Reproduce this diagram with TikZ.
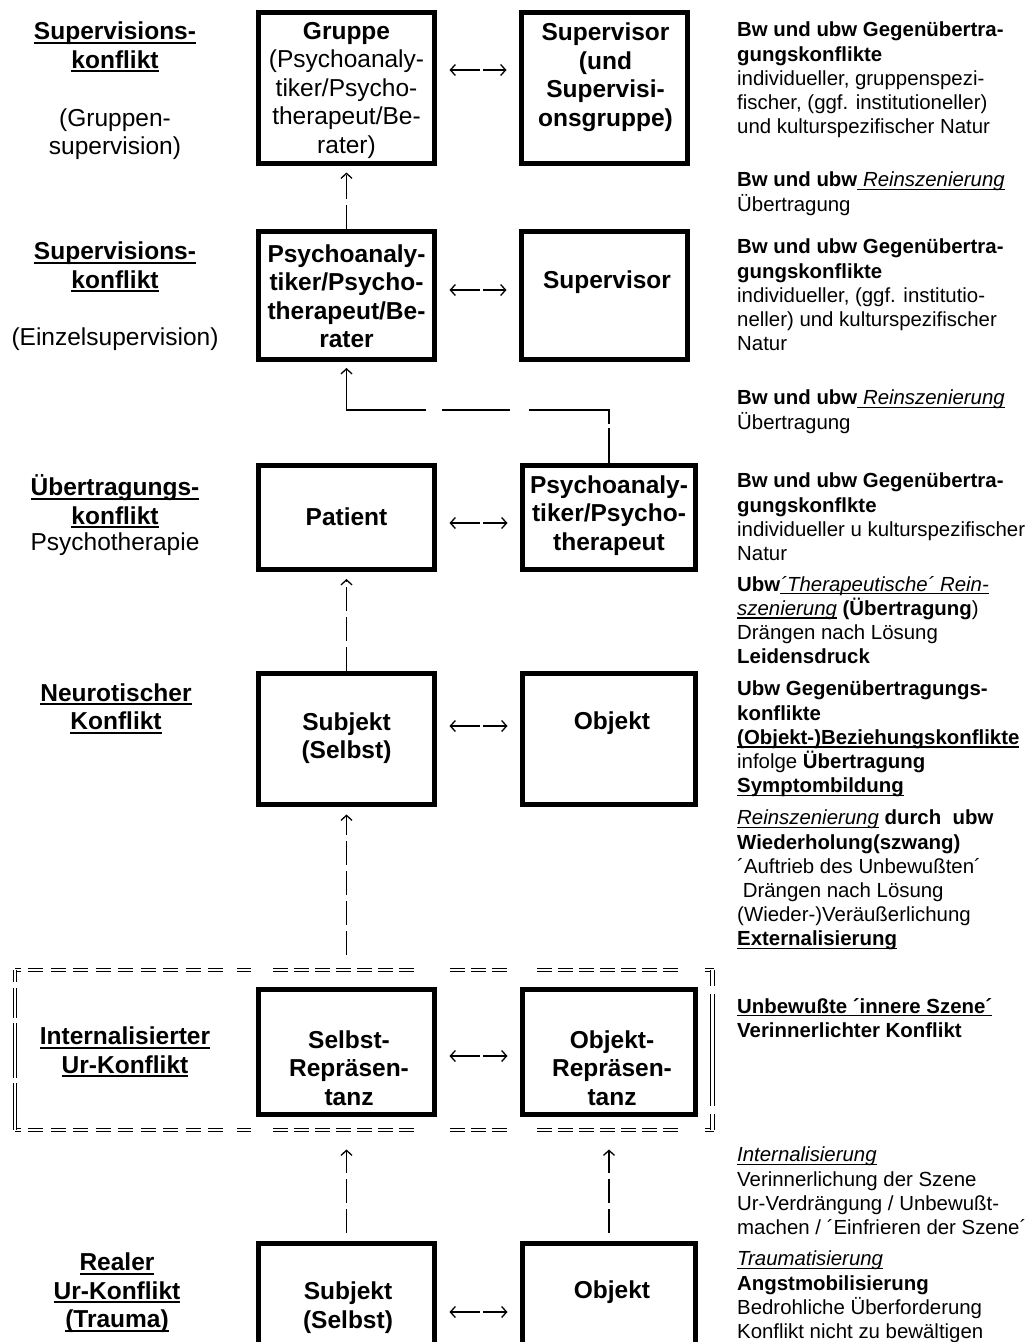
\documentclass[tikz,border=0pt]{standalone}
\usepackage{fontspec}
\setmainfont{Liberation Sans}
\usetikzlibrary{arrows.meta}

% underline at a fixed depth (crosses the descenders)
\newcommand\ulbar[1]{\leavevmode\setbox0=\hbox{#1}\rlap{\rule[-0.16em]{\wd0}{0.075em}}\box0\relax}

\tikzset{
  kasten/.style={draw, line width=5pt, inner sep=0pt},
  ktext/.style={align=center, inner sep=0pt, font=\bfseries\fontsize{24.5}{28.5}\selectfont},
  links/.style={align=center, inner sep=0pt, font=\fontsize{24.5}{28.5}\selectfont},
  linksfett/.style={links, font=\bfseries\fontsize{24.5}{28.5}\selectfont},
  notiz/.style={align=left, anchor=north west, inner sep=0pt, font=\fontsize{20.4}{24.2}\selectfont},
  pfeil/.style={-{Straight Barb[length=5pt,width=11pt]}, line width=1.3pt, dash pattern=on 24pt off 6pt},
  doppel/.style={{Straight Barb[length=5pt,width=11pt]}-{Straight Barb[length=5pt,width=11pt]}, line width=1.3pt, dash pattern=on 29pt off 3pt},
  rahmen/.style={double, double distance=2.5pt, line width=1pt},
  rahmenquer/.style={rahmen, dash pattern=on 6pt off 7pt on 15pt off 7.5pt on 15pt off 7.5pt on 15pt off 7.5pt on 15pt off 7.5pt on 15pt off 7.5pt on 15pt off 7.5pt on 15pt off 7.5pt on 15pt off 7.5pt on 15pt off 14pt on 14pt off 22pt on 15pt off 6pt on 15pt off 6pt on 15pt off 6pt on 15pt off 6pt on 15pt off 6pt on 15pt off 6pt on 15pt off 36pt on 15pt off 6pt on 15pt off 6pt on 15pt off 30pt on 15pt off 6pt on 15pt off 6pt on 15pt off 6pt on 15pt off 6pt on 15pt off 6pt on 15pt off 6pt on 15pt off 27pt on 20pt off 50pt},
}

\begin{document}
\begin{tikzpicture}[x=1pt, y=-1pt]
    \useasboundingbox (0,0) rectangle (1032,1342);
    \fill[white] (0,0) rectangle (1032,1342);
    \clip (0,0) rectangle (1032,1342);

    % Boxes
    \node[kasten, minimum width=176pt, minimum height=151pt] (gruppe) at (346.5,88) {};
    \node[kasten, minimum width=166pt, minimum height=151pt] (supgr) at (604.5,88) {};
    \node[kasten, minimum width=176pt, minimum height=128pt] (berater) at (346.5,295) {};
    \node[kasten, minimum width=166pt, minimum height=128pt] (sup) at (604.5,295) {};
    \node[kasten, minimum width=176pt, minimum height=104pt] (patient) at (346.5,517.5) {};
    \node[kasten, minimum width=173pt, minimum height=104pt] (therap) at (609,517.5) {};
    \node[kasten, minimum width=176pt, minimum height=131pt] (subj) at (346.5,739) {};
    \node[kasten, minimum width=173pt, minimum height=131pt] (obj) at (609,739) {};
    \node[kasten, minimum width=176pt, minimum height=125pt] (selbstrep) at (346.5,1052) {};
    \node[kasten, minimum width=173pt, minimum height=125pt] (objrep) at (609,1052) {};
    \node[kasten, minimum width=176pt, minimum height=130pt] (realsubj) at (346.5,1308.5) {};
    \node[kasten, minimum width=173pt, minimum height=130pt] (realobj) at (609,1308.5) {};

    % Box texts
    \node[ktext] (gruppe-t) at (346.5,90) {Gruppe\\{\mdseries(Psychoanaly-}\\{\mdseries tiker/Psycho-}\\{\mdseries therapeut/Be-}\\{\mdseries rater)}};
    \node[ktext] (supgr-t) at (605.5,77) {Supervisor\\(und\\Supervisi-\\onsgruppe)};
    \node[ktext] (berater-t) at (346.5,296) {Psychoanaly-\\tiker/Psycho-\\therapeut/Be-\\rater};
    \node[ktext] (sup-t) at (607,282) {Supervisor};
    \node[ktext] (patient-t) at (346.5,517) {Patient};
    \node[ktext] (therap-t) at (609,515.5) {Psychoanaly-\\tiker/Psycho-\\therapeut};
    \node[ktext] (subj-t) at (346.5,738) {Subjekt\\(Selbst)};
    \node[ktext] (obj-t) at (612,723) {Objekt};
    \node[ktext] (selbstrep-t) at (349,1068) {Selbst-\\Repräsen-\\tanz};
    \node[ktext] (objrep-t) at (612,1068) {Objekt-\\Repräsen-\\tanz};
    \node[ktext] (realsubj-t) at (348,1307.5) {Subjekt\\(Selbst)};
    \node[ktext] (realobj-t) at (612,1292) {Objekt};

    % Left column
    \node[linksfett] (l-sup1) at (115,47) {\ulbar{Supervisions-}\\\ulbar{konflikt}};
    \node[links] (l-grp) at (115,134) {(Gruppen-\\supervision)};
    \node[linksfett] (l-sup2) at (115,267) {\ulbar{Supervisions-}\\\ulbar{konflikt}};
    \node[links] (l-einz) at (115,339) {(Einzelsupervision)};
    \node[linksfett] (l-uebertr) at (115,501.5) {\ulbar{Übertragungs-}\\\ulbar{konflikt}};
    \node[links] (l-psyth) at (115,544) {Psychotherapie};
    \node[linksfett] (l-neur) at (116,708.5) {\ulbar{Neurotischer}\\\ulbar{Konflikt}};
    \node[linksfett] (l-intern) at (125,1052) {\ulbar{Internalisierter}\\\ulbar{Ur-Konflikt}};
    \node[linksfett] (l-real) at (117,1293) {\ulbar{Realer}\\\ulbar{Ur-Konflikt}\\\ulbar{(Trauma)}};

    % Inner scene frame
    \draw[rahmenquer] (15,970) -- (714,970);
    \draw[rahmenquer] (15,1130) -- (714,1130);
    \draw[rahmen, dash pattern=on 12pt off 6pt on 30pt off 5pt on 55pt off 5pt on 60pt] (15,970) -- (15,1130);
    \draw[rahmen, dash pattern=on 16pt off 8pt on 112pt off 8pt on 30pt] (712.5,970) -- (712.5,1130);

    % Horizontal connectors
    \draw[doppel] ([xshift=12.5pt,yshift=18pt]gruppe.east) -- ([xshift=-12.5pt,yshift=18pt]supgr.west);
    \draw[doppel] ([xshift=12.5pt,yshift=5pt]berater.east) -- ([xshift=-12.5pt,yshift=5pt]sup.west);
    \draw[doppel] ([xshift=12.5pt,yshift=-5.5pt]patient.east) -- ([xshift=-12.5pt,yshift=-5.5pt]therap.west);
    \draw[doppel] ([xshift=12.5pt,yshift=13pt]subj.east) -- ([xshift=-12.5pt,yshift=13pt]obj.west);
    \draw[doppel] ([xshift=12.5pt,yshift=-4pt]selbstrep.east) -- ([xshift=-12.5pt,yshift=-4pt]objrep.west);
    \draw[doppel] ([xshift=12.5pt,yshift=-3.5pt]realsubj.east) -- ([xshift=-12.5pt,yshift=-3.5pt]realobj.west);

    % Vertical connectors
    \coordinate (knick) at (346.5,410);
    \draw[pfeil] (berater.north) -- ([yshift=-6.5pt]gruppe.south);
    \draw[pfeil, dash pattern=on 35pt off 4pt on 94pt off 19pt on 68pt off 16pt on 200pt off 1pt] (therap.north) |- (knick) -- ([yshift=-6.5pt]berater.south);
    \draw[pfeil] (subj.north) -- ([yshift=-7pt]patient.south);
    \draw[pfeil] ([yshift=32pt]selbstrep.north) -- ([yshift=-7.5pt]subj.south);
    \draw[pfeil] ([yshift=8pt]realsubj.north) -- ([yshift=-32.5pt]selbstrep.south);
    \draw[pfeil] ([yshift=8pt]realobj.north) -- ([yshift=-32.5pt]objrep.south);

    % Right column
    \node[notiz] (n1) at (737,22) {\textbf{Bw und ubw Gegenübertra-}\\\textbf{gungskonflikte}\\individueller, gruppenspezi-\\fischer, (ggf. institutioneller)\\und kulturspezifischer Natur};
    \node[notiz] (n2) at (737,172) {\textbf{Bw und ubw}\ulbar{ \textit{Reinszenierung}}\\Übertragung};
    \node[notiz] (n3) at (737,239) {\textbf{Bw und ubw Gegenübertra-}\\\textbf{gungskonflikte}\\individueller, (ggf. institutio-\\neller) und kulturspezifischer\\Natur};
    \node[notiz] (n4) at (737,390) {\textbf{Bw und ubw}\ulbar{ \textit{Reinszenierung}}\\Übertragung};
    \node[notiz] (n5) at (737,473) {\textbf{Bw und ubw Gegenübertra-}\\\textbf{gungskonflkte}\\individueller u kulturspezifischer\\Natur};
    \node[notiz] (n6) at (737,576) {\textbf{Ubw}\ulbar{\textit{´Therapeutische´ Rein-}}\\\ulbar{\textit{szenierung}} \textbf{(Übertragung})\\Drängen nach Lösung\\\textbf{Leidensdruck}};
    \node[notiz] (n7) at (737,681) {\textbf{Ubw Gegenübertragungs-}\\\textbf{konflikte}\\\textbf{\ulbar{(Objekt-)Beziehungskonflikte}}\\infolge \textbf{Übertragung}\\\textbf{\ulbar{Symptombildung}}};
    \node[notiz] (n8) at (737,810) {\ulbar{\textit{Reinszenierung}} \textbf{durch\ \ ubw}\\\textbf{Wiederholung(szwang)}\\´Auftrieb des Unbewußten´\\\ Drängen nach Lösung\\(Wieder-)Veräußerlichung\\\textbf{\ulbar{Externalisierung}}};
    \node[notiz] (n9) at (737,998) {\textbf{\ulbar{Unbewußte ´innere Szene´}}\\\textbf{Verinnerlichter Konflikt}};
    \node[notiz] (n10) at (737,1147) {\ulbar{\textit{Internalisierung}}\\Verinnerlichung der Szene\\Ur-Verdrängung / Unbewußt-\\machen / ´Einfrieren der Szene´};
    \node[notiz] (n11) at (737,1251) {\ulbar{\textit{Traumatisierung}}\\\textbf{Angstmobilisierung}\\Bedrohliche Überforderung\\Konflikt nicht zu bewältigen};
\end{tikzpicture}
\end{document}
